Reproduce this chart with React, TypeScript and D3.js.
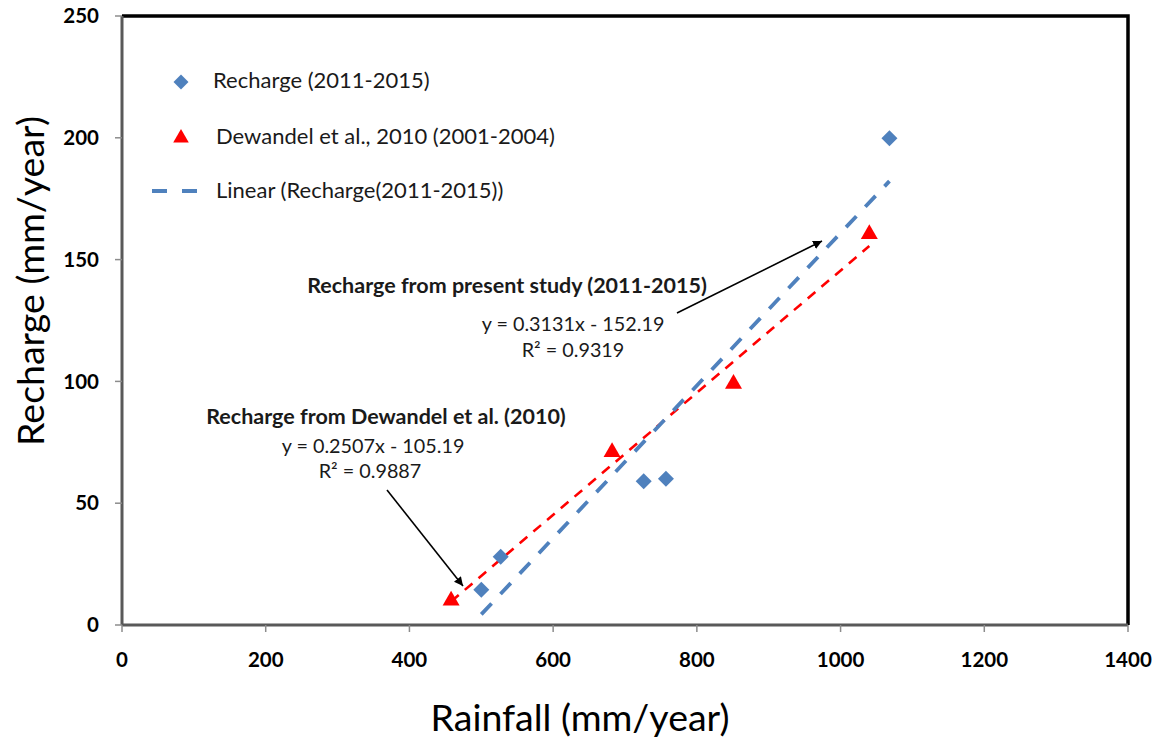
import * as d3 from "d3";
import { useEffect, useRef } from "react";

// Recharge from present study (2011-2015)
const rechargeRain = [500, 527, 726, 757, 1068];
const rechargeVal = [14.5, 28, 59, 60, 199.8];

// Dewandel et al., 2010 (2001-2004)
const dewandelRain = [458, 682, 851, 1040];
const dewandelVal = [10, 71, 99, 160.5];

// fitted trendlines (from the equations printed on the chart)
const blueFit = { slope: 0.3131, intercept: -152.19, from: 500, to: 1068 };
const redFit = { slope: 0.2507, intercept: -105.19, from: 458, to: 1040 };

const xTicks = [0, 200, 400, 600, 800, 1000, 1200, 1400];
const yTicks = [0, 50, 100, 150, 200, 250];

const legendLabels = [
    "Recharge (2011-2015)",
    "Dewandel et al., 2010 (2001-2004)",
    "Linear (Recharge(2011-2015))",
];

const BLUE = "#4F81BD";
const RED = "#FF0000";
const FONT = "Lato, 'Open Sans', sans-serif";

function drawChart(svgElement: SVGSVGElement) {
    const svg = d3.select(svgElement);
    svg.selectAll("*").remove();

    const width = 1165;
    const height = 740;
    const left = 122;
    const right = 1128;
    const top = 16;
    const bottom = 625;

    svg.attr("width", width).attr("height", height);

    const x = d3.scaleLinear().domain([0, 1400]).range([left, right]);
    const y = d3.scaleLinear().domain([0, 250]).range([bottom, top]);

    const defs = svg.append("defs");
    defs.append("marker")
        .attr("id", "arrow")
        .attr("viewBox", "0 0 10 10")
        .attr("refX", 10)
        .attr("refY", 5)
        .attr("markerWidth", 9)
        .attr("markerHeight", 9)
        .attr("markerUnits", "userSpaceOnUse")
        .attr("orient", "auto")
        .append("path")
        .attr("d", "M0,0 L10,5 L0,10 Z")
        .attr("fill", "black");

    // top / right frame
    svg.append("path")
        .attr("d", `M${left},${top} H${right} V${bottom}`)
        .attr("fill", "none")
        .attr("stroke", "black")
        .attr("stroke-width", 3.5);

    // axes
    const xAxis = svg.append("g").attr("transform", `translate(0,${bottom})`);
    xAxis.append("line")
        .attr("x1", left)
        .attr("x2", right)
        .attr("stroke", "#595959")
        .attr("stroke-width", 3);
    xAxis.selectAll(".tick")
        .data(xTicks)
        .join("line")
        .attr("x1", (d) => x(d))
        .attr("x2", (d) => x(d))
        .attr("y1", 0)
        .attr("y2", 7)
        .attr("stroke", "#8c8c8c")
        .attr("stroke-width", 1.5);
    xAxis.selectAll(".label")
        .data(xTicks)
        .join("text")
        .attr("x", (d) => x(d))
        .attr("y", 42)
        .attr("text-anchor", "middle")
        .style("font-family", FONT)
        .style("font-size", "20.5px")
        .style("font-weight", "700")
        .text((d) => d);

    const yAxis = svg.append("g").attr("transform", `translate(${left},0)`);
    yAxis.append("line")
        .attr("y1", top)
        .attr("y2", bottom)
        .attr("stroke", "#595959")
        .attr("stroke-width", 3);
    yAxis.selectAll(".tick")
        .data(yTicks)
        .join("line")
        .attr("y1", (d) => y(d))
        .attr("y2", (d) => y(d))
        .attr("x1", 0)
        .attr("x2", -7)
        .attr("stroke", "#8c8c8c")
        .attr("stroke-width", 1.5);
    yAxis.selectAll(".label")
        .data(yTicks)
        .join("text")
        .attr("x", -23)
        .attr("y", (d) => y(d))
        .attr("dy", "0.35em")
        .attr("text-anchor", "end")
        .style("font-family", FONT)
        .style("font-size", "20.5px")
        .style("font-weight", "700")
        .text((d) => d);

    // axis titles
    svg.append("text")
        .attr("x", 580)
        .attr("y", 731)
        .attr("text-anchor", "middle")
        .style("font-family", FONT)
        .style("font-size", "37.5px")
        .text("Rainfall (mm/year)");
    svg.append("text")
        .attr("transform", `translate(44,${281}) rotate(-90)`)
        .attr("text-anchor", "middle")
        .style("font-family", FONT)
        .style("font-size", "37.5px")
        .text("Recharge (mm/year)");

    // trendlines
    const line = d3
        .line<number>()
        .x((d) => x(d))
        .y((d) => y(d));
    const fitLine = (f: typeof blueFit) =>
        line.y((d) => y(f.slope * d + f.intercept))([f.from, f.to]);

    svg.append("path")
        .attr("d", fitLine(redFit))
        .attr("fill", "none")
        .attr("stroke", RED)
        .attr("stroke-width", 2.6)
        .attr("stroke-dasharray", "10,8");
    svg.append("path")
        .attr("d", fitLine(blueFit))
        .attr("fill", "none")
        .attr("stroke", BLUE)
        .attr("stroke-width", 3.8)
        .attr("stroke-dasharray", "15,13");

    // markers
    const diamond = d3.symbol(d3.symbolSquare, 128);
    const triangle = d3.symbol(d3.symbolTriangle, 125);

    svg.append("g")
        .selectAll("path")
        .data(rechargeRain)
        .join("path")
        .attr("d", diamond)
        .attr(
            "transform",
            (d, i) => `translate(${x(d)},${y(rechargeVal[i])}) rotate(45)`
        )
        .attr("fill", BLUE);

    svg.append("g")
        .selectAll("path")
        .data(dewandelRain)
        .join("path")
        .attr("d", triangle)
        .attr("transform", (d, i) => `translate(${x(d)},${y(dewandelVal[i])})`)
        .attr("fill", RED);

    // legend
    const legend = svg.append("g");
    legend.append("path")
        .attr("d", d3.symbol(d3.symbolSquare, 112)())
        .attr("transform", "translate(181,82) rotate(45)")
        .attr("fill", BLUE);
    legend.append("path")
        .attr("d", d3.symbol(d3.symbolTriangle, 105)())
        .attr("transform", "translate(181,138)")
        .attr("fill", RED);
    legend.append("line")
        .attr("x1", 152)
        .attr("x2", 197)
        .attr("y1", 191)
        .attr("y2", 191)
        .attr("stroke", BLUE)
        .attr("stroke-width", 3.8)
        .attr("stroke-dasharray", "15,15");
    legend.selectAll("text")
        .data(legendLabels)
        .join("text")
        .attr("x", (d, i) => (i === 0 ? 213 : 216))
        .attr("y", (d, i) => [88, 144, 198][i])
        .style("font-family", FONT)
        .style("font-size", "22px")
        .style("fill", "#1a1a1a")
        .text((d) => d);

    // annotations
    const note = (tx: number, ty: number, text: string, bold = false) =>
        svg.append("text")
            .attr("x", tx)
            .attr("y", ty)
            .attr("text-anchor", "middle")
            .style("font-family", FONT)
            .style("font-size", bold ? "21.5px" : "19.8px")
            .style("font-weight", bold ? "700" : "400")
            .style("fill", "#1a1a1a")
            .text(text);

    note(507, 293, "Recharge from present study (2011-2015)", true);
    note(573, 331, "y = 0.3131x - 152.19");
    note(573, 357, "R² = 0.9319");
    note(386, 424, "Recharge from Dewandel et al. (2010)", true);
    note(373, 453, "y = 0.2507x - 105.19");
    note(370, 478, "R² = 0.9887");

    svg.append("line")
        .attr("x1", 677)
        .attr("y1", 313)
        .attr("x2", 822)
        .attr("y2", 241)
        .attr("stroke", "black")
        .attr("stroke-width", 1.6)
        .attr("marker-end", "url(#arrow)");
    svg.append("line")
        .attr("x1", 387)
        .attr("y1", 490)
        .attr("x2", 463)
        .attr("y2", 586)
        .attr("stroke", "black")
        .attr("stroke-width", 1.6)
        .attr("marker-end", "url(#arrow)");
}

export default function App() {
    const chartRef = useRef<SVGSVGElement | null>(null);

    useEffect(() => {
        document.body.style.margin = "0";
        if (chartRef.current) {
            drawChart(chartRef.current);
        }
    }, []);

    return (
        <div style={{ background: "white" }}>
            <svg ref={chartRef} style={{ display: "block" }}></svg>
        </div>
    );
}
